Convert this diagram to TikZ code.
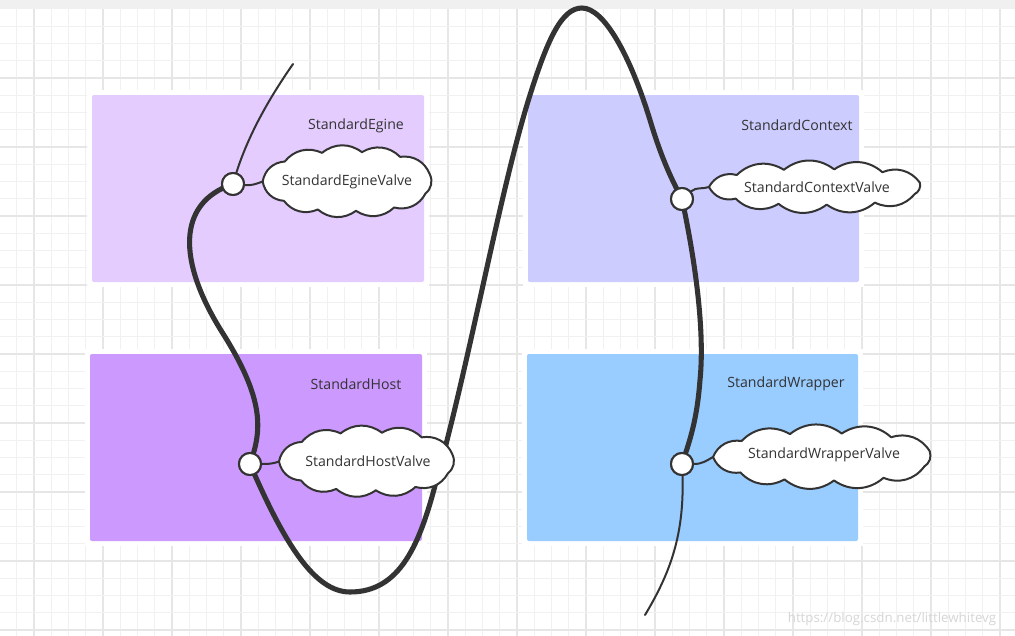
\documentclass[tikz,border=0pt]{standalone}
\usepackage{fontspec}
\setmainfont{Open Sans}
\definecolor{ink}{HTML}{333333}
\definecolor{band}{HTML}{F0F0F0}
\definecolor{gridminor}{HTML}{F1F1F1}
\definecolor{gridmajor}{HTML}{E6E6E6}
\definecolor{cEgine}{HTML}{E5CCFF}
\definecolor{cContext}{HTML}{CCCCFF}
\definecolor{cHost}{HTML}{CC99FF}
\definecolor{cWrapper}{HTML}{99CCFF}
\definecolor{wm}{HTML}{D6D6D6}
\tikzset{
  panel/.style={rounded corners=1.5pt, draw=none},
  halo/.style={fill=white, draw=none},
  lbl/.style={text=ink, font=\fontsize{10.6}{13}\selectfont, inner sep=0pt},
  valvetext/.style={text=ink, font=\fontsize{10.6}{13}\selectfont, inner sep=0pt},
  valveline/.style={draw=ink, fill=white, line width=1.5pt, line join=round},
  port/.style={circle, draw=ink, fill=white, line width=1.5pt, minimum size=16.5pt, inner sep=0pt},
  mainline/.style={draw=ink, line width=3.8pt, line cap=round},
  thinline/.style={draw=ink, line width=1.5pt, line cap=round},
  puff/.style={bend left=38},
}
% #1 tip name, #2 cx, #3 cy (px), #4 half width (pt), #5 half height (pt)
\newcommand\valvecloud[5]{%
  \begin{scope}[shift={(#2,#3)}, x=#4, y=#5]
    \path[valveline] (-1,0) to[puff] (-0.74,0.6) to[puff] (-0.3,0.86)
      to[puff] (0.17,0.88) to[puff] (0.62,0.74) to[puff] (0.97,0.22)
      to[puff] (0.92,-0.36) to[puff] (0.55,-0.78) to[puff] (0.1,-0.88)
      to[puff] (-0.35,-0.84) to[puff] (-0.75,-0.58) to[puff] (-1,0) -- cycle;
    \coordinate (#1) at (-1,0);
  \end{scope}}
\begin{document}
\begin{tikzpicture}[x=0.75pt,y=-0.75pt]
\useasboundingbox (0,0) rectangle (1015,636);
\fill[white] (0,0) rectangle (1015,636);
% grid
\foreach \k in {1,...,58}{
  \pgfmathsetmacro{\xx}{17.25*\k-0.5}
  \pgfmathtruncatemacro{\m}{mod(\k,4)}
  \ifnum\m=2
    \draw[gridmajor, line width=1.2pt] (\xx,9) -- (\xx,636);
  \else
    \draw[gridminor, line width=0.9pt] (\xx,9) -- (\xx,636);
  \fi
}
\foreach \k in {1,...,36}{
  \pgfmathsetmacro{\yy}{9+17.25*\k}
  \pgfmathtruncatemacro{\m}{mod(\k,4)}
  \ifnum\m=0
    \draw[gridmajor, line width=1.2pt] (0,\yy) -- (1015,\yy);
  \else
    \draw[gridminor, line width=0.9pt] (0,\yy) -- (1015,\yy);
  \fi
}
\fill[band] (0,0) rectangle (1015,9);
% halos and panels
\fill[halo] (87,90) rectangle (429,287);
\fill[halo] (523,90) rectangle (864,287);
\fill[halo] (85,349) rectangle (427,546);
\fill[halo] (522,349) rectangle (863,546);
\fill[panel, cEgine] (92,95) rectangle (424,282);
\fill[panel, cContext] (528,95) rectangle (859,282);
\fill[panel, cHost] (90,354) rectangle (422,541);
\fill[panel, cWrapper] (527,354) rectangle (858,541);
% panel labels
\node[lbl] (lEgine) at (356,126) {StandardEgine};
\node[lbl] (lContext) at (797,125) {StandardContext};
\node[lbl] (lHost) at (356,384) {StandardHost};
\node[lbl] (lWrapper) at (786,384) {StandardWrapper};
% ports (placed first for names; redrawn on top later)
\node[port] (pe) at (233,184) {};
\node[port] (pc) at (682,199) {};
\node[port] (ph) at (250,464) {};
\node[port] (pw) at (682,464) {};
\coordinate (topend) at (293,64);
\coordinate (botend) at (645,615);
% main thick curve
\draw[mainline] (pe.center) .. controls (176,203) and (178,262) .. (222,332)
   .. controls (265,400) and (262,430) .. (ph.center);
\draw[mainline] (ph.center) .. controls (285,545) and (315,592) .. (350,592)
   .. controls (400,592) and (420,545) .. (437,478)
   .. controls (470,360) and (500,190) .. (530,95)
   .. controls (548,38) and (562,8) .. (582,8)
   .. controls (604,8) and (630,55) .. (650,120)
   .. controls (662,160) and (672,180) .. (pc.center);
\draw[mainline] (pc.center) .. controls (695,260) and (705,330) .. (700,380)
   .. controls (697,420) and (690,440) .. (pw.center);
% thin lines
\draw[thinline] (topend) .. controls (268,100) and (245,140) .. (pe.center);
\draw[thinline] (pw.center) .. controls (686,530) and (672,570) .. (botend);
% valves
\valvecloud{vetip}{347.5}{181.5}{63.6pt}{25pt}
\valvecloud{vctip}{816}{187}{80.3pt}{15pt}
\valvecloud{vhtip}{367}{461.5}{66pt}{24.5pt}
\valvecloud{vwtip}{823}{457}{82.5pt}{20pt}
\node[valvetext] (ve) at (347,182) {StandardEgineValve};
\node[valvetext] (vc) at (817,187) {StandardContextValve};
\node[valvetext] (vh) at (368,461) {StandardHostValve};
\node[valvetext] (vw) at (824,455) {StandardWrapperValve};
% connectors port -> valve
\draw[thinline] (pe) to[out=-5, in=200] (vetip);
\draw[thinline] (pc) to[out=40, in=200] (vctip);
\draw[thinline] (ph) to[out=0, in=200] (vhtip);
\draw[thinline] (pw) to[out=0, in=210] (vwtip);
% ports on top
\node[port] at (pe) {};
\node[port] at (pc) {};
\node[port] at (ph) {};
\node[port] at (pw) {};
% watermark
\node[text=wm, font=\fontsize{10}{12}\selectfont, inner sep=0pt] (mark) at (892,619) {https://blog.csdn.net/littlewhitevg};
\end{tikzpicture}
\end{document}
